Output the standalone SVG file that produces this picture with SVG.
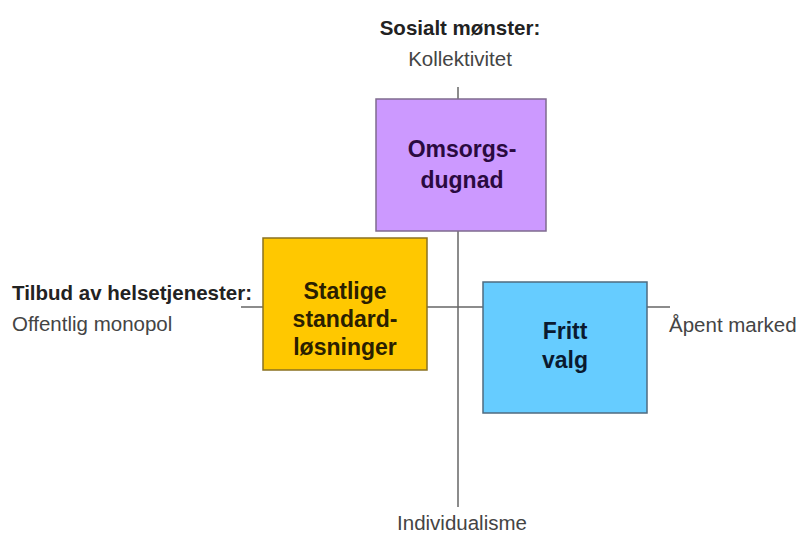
<svg xmlns="http://www.w3.org/2000/svg" width="797" height="534" viewBox="0 0 797 534">
<style>
text{font-family:"Liberation Sans",Arial,sans-serif;}
.lbl{font-size:20.5px;fill:#444;}
.hd{font-size:20.5px;font-weight:bold;fill:#222;}
.nt{font-size:23px;font-weight:bold;text-anchor:middle;}
.ax{stroke:#666;stroke-width:1.5;fill:none;}
</style>
<rect width="797" height="534" fill="#fff"/>
<g id="connectors">
<line class="ax" x1="458" y1="87" x2="458" y2="507"/>
<line class="ax" x1="241" y1="307" x2="670" y2="307"/>
</g>
<g id="omsorgsdugnad">
<rect x="376" y="99" width="170" height="132" fill="#cc99ff" stroke="#7f6b8f" stroke-width="1.5"/>
<text class="nt" x="462" y="157" fill="#2a0a40">Omsorgs-</text>
<text class="nt" x="462" y="188" fill="#2a0a40">dugnad</text>
</g>
<g id="statlige">
<rect x="263" y="238" width="164" height="132" fill="#ffc800" stroke="#8a7220" stroke-width="1.5"/>
<text class="nt" x="345" y="299" fill="#2a2000">Statlige</text>
<text class="nt" x="345" y="327" fill="#2a2000">standard-</text>
<text class="nt" x="345" y="355" fill="#2a2000">løsninger</text>
</g>
<g id="fritt-valg">
<rect x="483" y="282" width="164" height="131" fill="#66ccff" stroke="#4f6b80" stroke-width="1.5"/>
<text class="nt" x="565" y="339" fill="#0a1a30">Fritt</text>
<text class="nt" x="565" y="368" fill="#0a1a30">valg</text>
</g>
<g id="labels">
<text class="hd" x="460" y="35" text-anchor="middle">Sosialt mønster:</text>
<text class="lbl" x="460" y="66" text-anchor="middle">Kollektivitet</text>
<text class="hd" x="12" y="300">Tilbud av helsetjenester:</text>
<text class="lbl" x="12" y="331">Offentlig monopol</text>
<text class="lbl" x="669" y="332">Åpent marked</text>
<text class="lbl" x="462" y="530" text-anchor="middle">Individualisme</text>
</g>
</svg>
